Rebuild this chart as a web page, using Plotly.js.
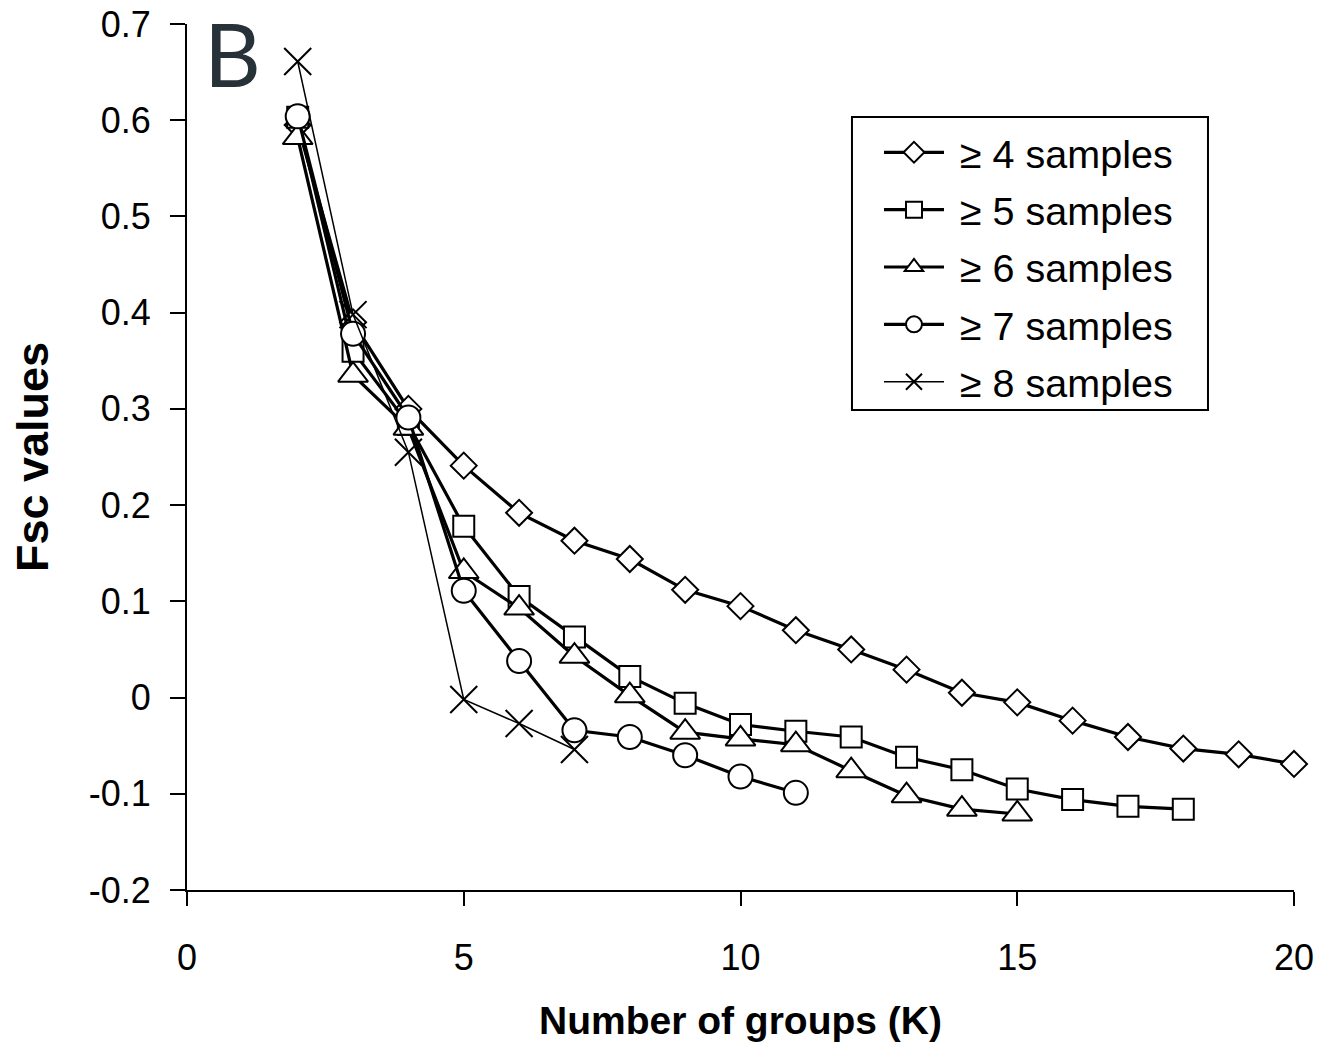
<!DOCTYPE html>
<html>
<head>
<meta charset="utf-8">
<script src="https://cdn.plot.ly/plotly-3.0.1.min.js"></script>
<style>html,body{margin:0;padding:0;background:#fff;}#chart{width:1335px;height:1057px;}</style>
</head>
<body>
<div id="chart"></div>
<script>
// Data
const seriesNames = ["\u00a0\u2265 4 samples", "\u00a0\u2265 5 samples", "\u00a0\u2265 6 samples", "\u00a0\u2265 7 samples", "\u00a0\u2265 8 samples"];

const k4 = [2,3,4,5,6,7,8,9,10,11,12,13,14,15,16,17,18,19,20];
const fst4 = [0.595, 0.39, 0.30, 0.241, 0.192, 0.163, 0.144, 0.112, 0.095, 0.070, 0.050, 0.029, 0.005, -0.005, -0.024, -0.041, -0.053, -0.059, -0.069];

const k5 = [2,3,4,5,6,7,8,9,10,11,12,13,14,15,16,17,18];
const fst5 = [0.603, 0.36, 0.284, 0.178, 0.105, 0.063, 0.022, -0.006, -0.028, -0.035, -0.041, -0.062, -0.075, -0.095, -0.106, -0.113, -0.116];

const k6 = [2,3,4,5,6,7,8,9,10,11,12,13,14,15];
const fst6 = [0.582, 0.335, 0.28, 0.131, 0.093, 0.043, 0.002, -0.036, -0.043, -0.049, -0.076, -0.102, -0.116, -0.121];

const k7 = [2,3,4,5,6,7,8,9,10,11];
const fst7 = [0.604, 0.378, 0.291, 0.111, 0.038, -0.034, -0.041, -0.060, -0.082, -0.099];

const k8 = [2,3,4,5,6,7];
const fst8 = [0.661, 0.398, 0.255, -0.002, -0.027, -0.054];

const xTickVals = [0, 5, 10, 15, 20];
const xTickText = ["0", "5", "10", "15", "20"];
const yTickVals = [-0.2, -0.1, 0, 0.1, 0.2, 0.3, 0.4, 0.5, 0.6, 0.7];
const yTickText = ["-0.2", "-0.1", "0", "0.1", "0.2", "0.3", "0.4", "0.5", "0.6", "0.7"];

const FONT = "Arial, 'Liberation Sans', sans-serif";

function tr(x, y, name, symbol, size, lw, group) {
  return {
    x: x, y: y, name: name, type: "scatter", mode: "lines+markers",
    legendgroup: group, cliponaxis: false,
    line: {color: "#000", width: lw},
    marker: {symbol: symbol, size: size, color: "#fff", line: {color: "#000", width: 2}}
  };
}

const traces = [
  tr(k4, fst4, seriesNames[0], "diamond", 20, 3.2, "g1"),
  tr(k5, fst5, seriesNames[1], "square", 21, 3.2, "g2"),
  tr(k6, fst6, seriesNames[2], "triangle-up", 26, 3.2, "g3"),
  tr(k7, fst7, seriesNames[3], "circle", 24, 3.2, "g4"),
  {
    x: k8, y: fst8, name: seriesNames[4], type: "scatter", mode: "lines+markers",
    legendgroup: "g5", cliponaxis: false,
    line: {color: "#000", width: 1.5},
    marker: {symbol: "x-thin-open", size: 27, color: "#000", line: {color: "#000", width: 2}}
  }
];

const layout = {
  width: 1335, height: 1057,
  margin: {l: 187, r: 41, t: 24, b: 167},
  paper_bgcolor: "#fff", plot_bgcolor: "#fff",
  font: {family: FONT, color: "#000", size: 36},
  showlegend: true,
  legend: {
    x: 0.6251, y: 0.889, xanchor: "left", yanchor: "top",
    borderwidth: 0, bgcolor: "rgba(0,0,0,0)",
    font: {family: FONT, size: 39.5, color: "#000"},
    itemwidth: 60, traceorder: "grouped", tracegroupgap: 3,
    itemclick: false
  },
  shapes: [{
    type: "rect", xref: "paper", yref: "paper",
    x0: 0.6007, x1: 0.9223, y0: 0.5543, y1: 0.8926,
    line: {color: "#000", width: 2}, fillcolor: "rgba(0,0,0,0)", layer: "below"
  }],
  xaxis: {
    range: [0, 20], tickvals: xTickVals, ticktext: xTickText,
    showgrid: false, zeroline: false, showline: true, linecolor: "#000", linewidth: 2,
    ticks: "outside", ticklen: 14, tickwidth: 2, tickcolor: "#000",
    tickfont: {family: FONT, size: 36}, ticklabelstandoff: 21,
    title: {text: "<b>Number of groups (K)</b>", font: {family: FONT, size: 39}, standoff: 29},
    automargin: false
  },
  yaxis: {
    range: [-0.2, 0.7], tickvals: yTickVals, ticktext: yTickText,
    showgrid: false, zeroline: false, showline: true, linecolor: "#000", linewidth: 2,
    ticks: "outside", ticklen: 15, tickwidth: 2, tickcolor: "#000",
    tickfont: {family: FONT, size: 36}, ticklabelstandoff: 12,
    title: {text: "<b>Fsc values</b>", font: {family: FONT, size: 45}, standoff: 26},
    automargin: false
  },
  annotations: [{
    text: "B", xref: "paper", yref: "paper", x: 0.0407, y: 0.9665,
    xanchor: "center", yanchor: "middle", showarrow: false,
    font: {family: "Lato, 'Open Sans', sans-serif", size: 88, color: "#263238"}
  }]
};

Plotly.newPlot("chart", traces, layout, {displayModeBar: false, staticPlot: true});
</script>
</body>
</html>
